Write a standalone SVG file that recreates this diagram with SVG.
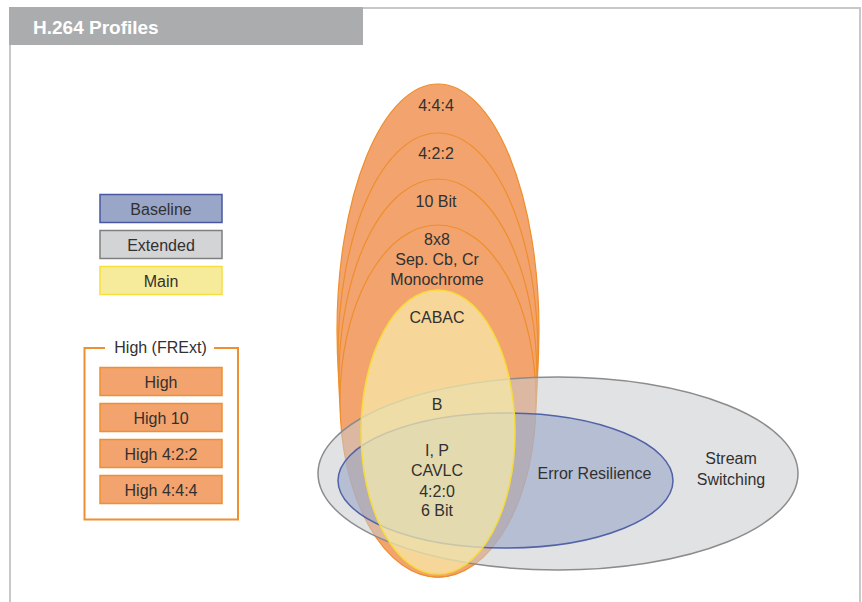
<svg xmlns="http://www.w3.org/2000/svg" width="862" height="602" viewBox="0 0 862 602">
<style>
text{font-family:"Liberation Sans",Arial,sans-serif;font-size:16px;fill:#313131;text-anchor:middle}
.title{font-size:19px;font-weight:bold;fill:#fff;text-anchor:start}
.or{fill:#F3A36E;stroke:#EE8E2C;stroke-width:1.2}
.lb{stroke-width:1.5}
</style>
<rect x="0" y="0" width="862" height="602" fill="#fff"/>
<path d="M10,602 V8 H860 V602" fill="none" stroke="#C8C8C8" stroke-width="2"/>
<g id="title">
<rect x="9" y="7" width="354" height="38" fill="#ABACAE"/>
<text class="title" x="33" y="34">H.264 Profiles</text>
</g>
<g id="legend">
<g id="leg-baseline"><rect class="lb" x="100" y="194.5" width="122" height="28" fill="#9AA6C8" stroke="#4857A0"/><text x="161" y="215">Baseline</text></g>
<g id="leg-extended"><rect class="lb" x="100" y="230.5" width="122" height="28" fill="#D3D4D6" stroke="#7F7F7F"/><text x="161" y="251">Extended</text></g>
<g id="leg-main"><rect class="lb" x="100" y="266.5" width="122" height="28" fill="#F6EB9B" stroke="#F8E03C"/><text x="161" y="287">Main</text></g>
<g id="leg-high-group">
<path d="M105,348 H84.5 V519.5 H238 V348 H214" fill="none" stroke="#EF9030" stroke-width="2"/>
<text x="160.5" y="352.5">High (FRExt)</text>
</g>
<g id="leg-high"><rect class="lb" x="100" y="367.5" width="122" height="28" fill="#F3A36D" stroke="#EF9030"/><text x="161" y="388">High</text></g>
<g id="leg-high10"><rect class="lb" x="100" y="403.5" width="122" height="28" fill="#F3A36D" stroke="#EF9030"/><text x="161" y="424">High 10</text></g>
<g id="leg-high422"><rect class="lb" x="100" y="439.5" width="122" height="28" fill="#F3A36D" stroke="#EF9030"/><text x="161" y="460">High 4:2:2</text></g>
<g id="leg-high444"><rect class="lb" x="100" y="475.5" width="122" height="28" fill="#F3A36D" stroke="#EF9030"/><text x="161" y="496">High 4:4:4</text></g>
</g>
<g id="high444"><ellipse class="or" cx="438" cy="330.5" rx="101" ry="246.5"/></g>
<g id="high422"><ellipse class="or" cx="438" cy="355" rx="100" ry="222"/></g>
<g id="high10"><ellipse class="or" cx="438" cy="378" rx="99" ry="199"/></g>
<g id="high"><ellipse class="or" cx="438" cy="401" rx="98" ry="176"/></g>
<g id="extended"><ellipse cx="558" cy="473.5" rx="240" ry="96.5" fill="#C9CACD" fill-opacity="0.55" stroke="#8C8C8C" stroke-width="1.5"/></g>
<g id="baseline"><ellipse cx="505.5" cy="480.5" rx="167.5" ry="67.5" fill="#9AA6C8" fill-opacity="0.6" stroke="#5262A6" stroke-width="1.5"/></g>
<g id="main"><ellipse cx="438" cy="432" rx="77" ry="142" fill="#F7ECAA" fill-opacity="0.72" stroke="#F5DC3C" stroke-width="1.5"/></g>
<g id="labels">
<text x="436" y="111">4:4:4</text>
<text x="436" y="159">4:2:2</text>
<text x="436" y="207">10 Bit</text>
<text x="437" y="245">8x8</text>
<text x="437" y="265">Sep. Cb, Cr</text>
<text x="437" y="285">Monochrome</text>
<text x="437" y="323">CABAC</text>
<text x="437" y="410">B</text>
<text x="437" y="456">I, P</text>
<text x="437" y="476">CAVLC</text>
<text x="437" y="497">4:2:0</text>
<text x="437" y="516">6 Bit</text>
<text x="594.5" y="479">Error Resilience</text>
<text x="731" y="464">Stream</text>
<text x="731" y="485">Switching</text>
</g>
</svg>
